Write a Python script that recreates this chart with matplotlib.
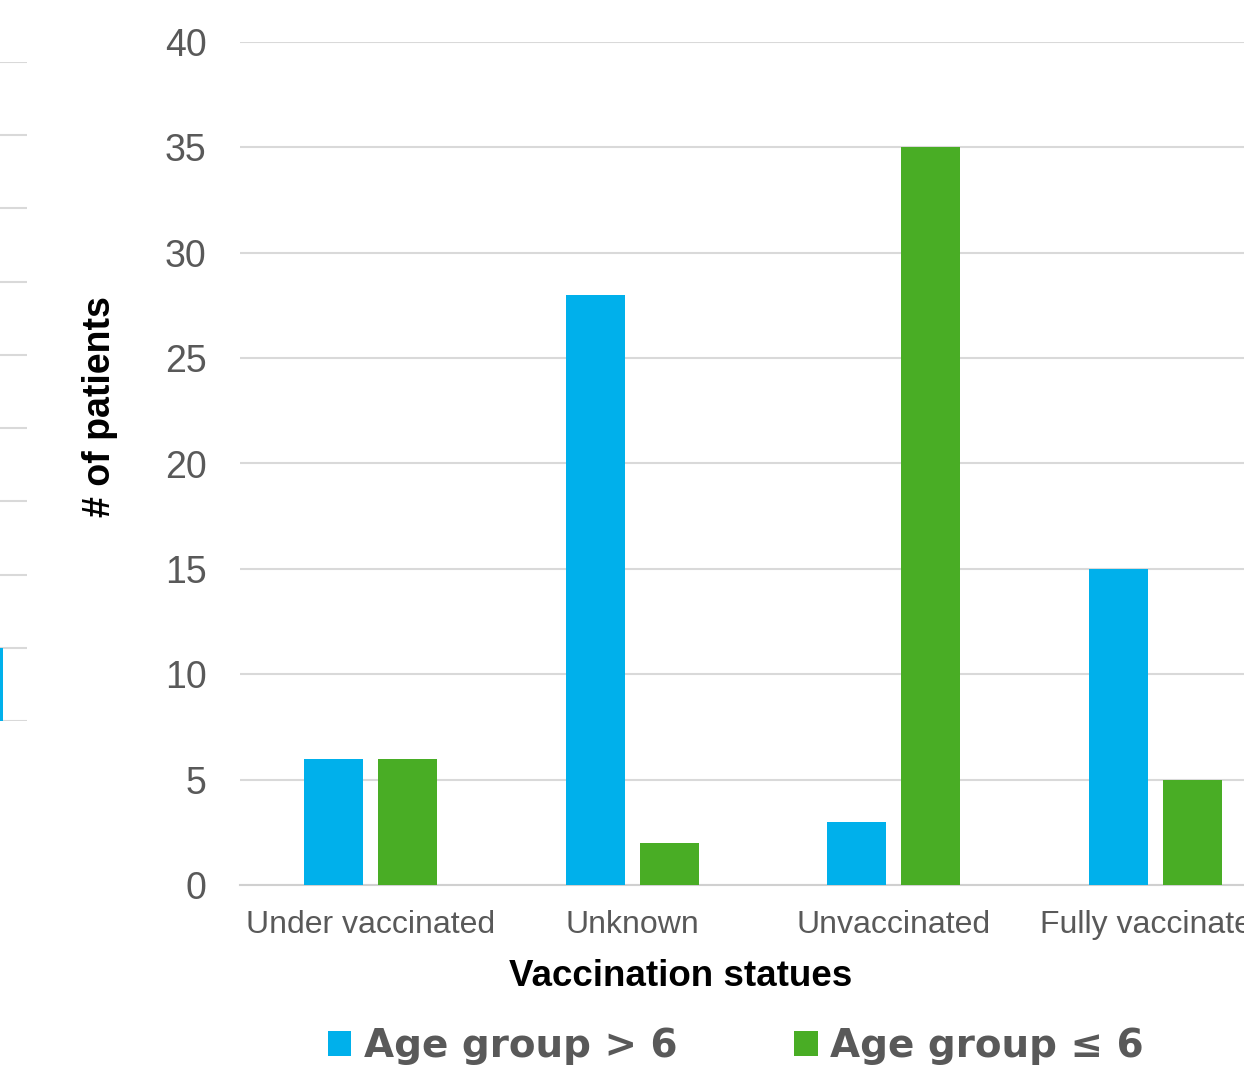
import matplotlib
matplotlib.use("Agg")
import matplotlib.pyplot as plt
import numpy as np

plt.rcParams['font.family'] = ['Liberation Sans', 'DejaVu Sans']

categories = ["Under vaccinated", "Unknown", "Unvaccinated", "Fully vaccinated"]
age_over_6 = [6, 28, 3, 15]
age_under_6 = [6, 2, 35, 5]
series_labels = ["Age group > 6", "Age group \u2264 6"]
yticks = [0, 5, 10, 15, 20, 25, 30, 35, 40]

# fragment of a neighbouring chart visible at left edge
frag_values = [1]

BLUE = "#00B0EB"
GREEN = "#49AD25"
GRID = "#D9D9D9"
TXT = "#595959"

W, H = 1244, 1072
fig = plt.figure(figsize=(W / 100, H / 100), dpi=100)

def px_axes(left, top, right, bottom):
    return fig.add_axes([left / W, 1 - bottom / H, (right - left) / W, (bottom - top) / H])

# main axes
AX_L, AX_R = 240, 240 + 4 * 261.5
ax = px_axes(AX_L, 42, AX_R, 885)
x = np.arange(len(categories))
bw = 0.225
off = 0.141
ax.bar(x - off, age_over_6, bw, color=BLUE, label=series_labels[0], zorder=3)
ax.bar(x + off, age_under_6, bw, color=GREEN, label=series_labels[1], zorder=3)
ax.set_xlim(-0.5, len(categories) - 0.5)
ax.set_ylim(0, 40)
ax.set_yticks(yticks)
ax.yaxis.grid(True, color=GRID, linewidth=1.5, zorder=0)
ax.set_axisbelow(True)
for s in ["top", "right", "left"]:
    ax.spines[s].set_visible(False)
ax.spines["bottom"].set_color("#D0D0D0")
ax.spines["bottom"].set_linewidth(1.5)
ax.tick_params(axis="both", length=0, labelcolor=TXT)
ax.tick_params(axis="y", pad=24, labelsize=27)
ax.tick_params(axis="x", pad=18, labelsize=23)
ax.set_xticks(x)
ax.set_xticklabels(categories)
axw = AX_R - AX_L
ax.set_xlabel("Vaccination statues", fontsize=26.5, fontweight="bold", color="black")
ax.xaxis.set_label_coords((681 - AX_L) / axw, -(976 - 885) / 843)
ax.set_ylabel("# of patients", fontsize=27, fontweight="bold", color="black")
ax.yaxis.set_label_coords(-(AX_L - 100) / axw, (885 - 407) / 843)
ax.xaxis.get_label().set_va("center")
ax.yaxis.get_label().set_va("center")

# fragment axes at the left edge
fa = px_axes(-200, 62, 27, 721)
fa.bar([0], frag_values, 0.225, color=BLUE, zorder=3)
right = 0.1125 + 24 / 262
fa.set_xlim(right - 227 / 262, right)
fa.set_ylim(0, 9)
fa.set_yticks(range(0, 10))
fa.yaxis.grid(True, color=GRID, linewidth=1.5, zorder=0)
fa.set_axisbelow(True)
for s in fa.spines.values():
    s.set_visible(False)
fa.set_xticks([])
fa.tick_params(axis="y", length=0, labelleft=False)

# legend
handles, labels = ax.get_legend_handles_labels()
leg = fig.legend(handles, labels, loc="center", bbox_to_anchor=(736 / W, 1 - 1046 / H),
                 ncol=2, frameon=False, handlelength=0.6, handleheight=0.6,
                 handletextpad=0.33, columnspacing=3.0,
                 prop={"size": 28, "weight": "bold", "family": ["DejaVu Sans"]})
for t in leg.get_texts():
    t.set_color(TXT)

fig.savefig("out.png", dpi=100)
